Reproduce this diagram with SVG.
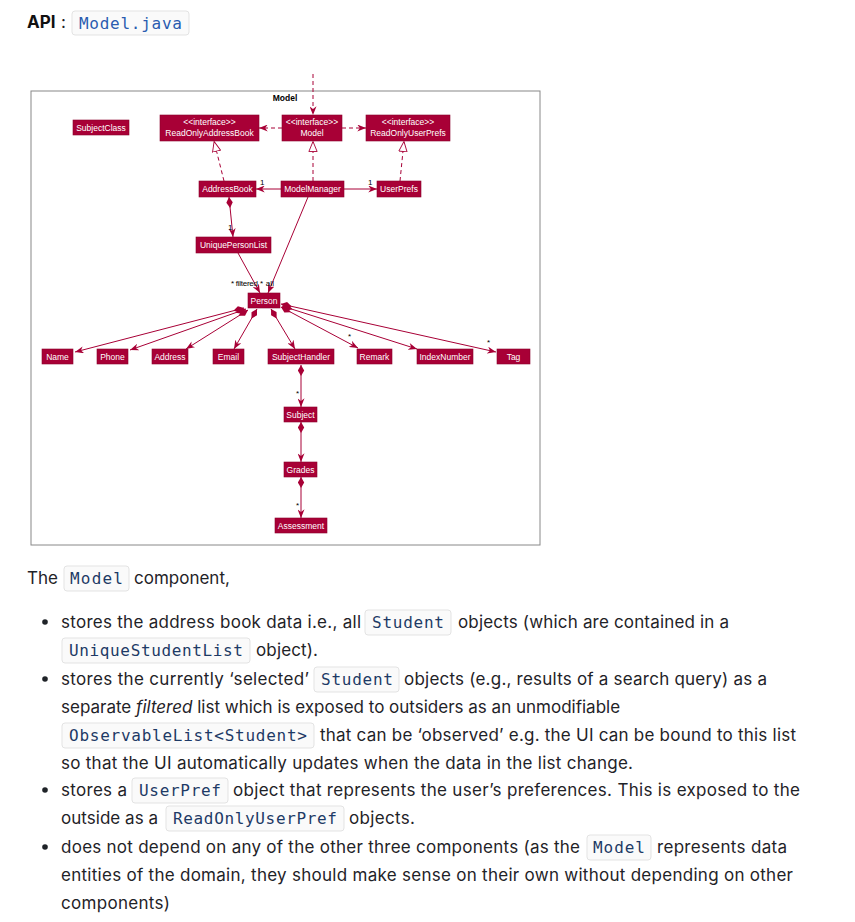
<svg xmlns="http://www.w3.org/2000/svg" width="855" height="922" viewBox="0 0 855 922">
<style>
.node rect{fill:#A80036;stroke:#8a002c;stroke-width:0.6}
.node text{fill:#fff;font-family:"Liberation Sans",Arial,sans-serif;font-size:8.5px;text-anchor:middle}
.c{fill:none;stroke:#A80036;stroke-width:1}
.d{stroke-dasharray:4,3}
.lbl{font-family:"Liberation Sans",Arial,sans-serif;font-size:8px;fill:#000}
.body{font-family:Inter,"Liberation Sans",sans-serif;font-size:17px;fill:#1f2328}
.code{font-family:"DejaVu Sans Mono","Liberation Mono",monospace;font-size:16px;fill:#1e3a66}
.cb{fill:#fafafa;stroke:#e3e3e3;stroke-width:1}
</style>
<defs>
<marker id="arr" viewBox="0 0 10 8" refX="10" refY="4" markerWidth="9" markerHeight="7" markerUnits="userSpaceOnUse" orient="auto"><path d="M0,0 L10,4 L0,8 L3,4 z" fill="#A80036"/></marker>
<marker id="tri" viewBox="0 0 12 10" refX="12" refY="5" markerWidth="11" markerHeight="10" markerUnits="userSpaceOnUse" orient="auto"><path d="M0.5,0.5 L11.5,5 L0.5,9.5 z" fill="#fff" stroke="#A80036" stroke-width="1"/></marker>
<marker id="dia" viewBox="0 0 12 7" refX="0" refY="3.5" markerWidth="11" markerHeight="7" markerUnits="userSpaceOnUse" orient="auto"><path d="M0,3.5 L6,0 L12,3.5 L6,7 z" fill="#A80036"/></marker>
</defs>
<rect width="855" height="922" fill="#fff"/>

<!-- header -->
<text x="27" y="28" font-family="Inter,'Liberation Sans',sans-serif" font-size="17" font-weight="bold" fill="#111">API</text>
<text x="61" y="28" class="body">:</text>
<rect x="72" y="11" width="117" height="24" rx="3" class="cb"/>
<text x="79" y="29" class="code" style="fill:#2a5cb0" textLength="103">Model.java</text>

<!-- frame -->
<rect x="31" y="91" width="509" height="454" fill="none" stroke="#888" stroke-width="1"/>
<text x="285" y="101" font-family="'Liberation Sans',Arial,sans-serif" font-size="8.5" font-weight="bold" text-anchor="middle">Model</text>

<g id="connectors">
<path class="c d" d="M313,74 L313,115" marker-end="url(#arr)"/>
<path class="c d" d="M282,128 L259,128" marker-end="url(#arr)"/>
<path class="c d" d="M342,128 L366,128" marker-end="url(#arr)"/>
<path class="c d" d="M313,181 L313,141" marker-end="url(#tri)"/>
<path class="c d" d="M224,181 L214,141" marker-end="url(#tri)"/>
<path class="c d" d="M400,181 L404,141" marker-end="url(#tri)"/>
<path class="c" d="M281,189 L256,189" marker-end="url(#arr)"/>
<text class="lbl" x="260" y="185">1</text>
<path class="c" d="M344,189 L377,189" marker-end="url(#arr)"/>
<text class="lbl" x="368" y="185">1</text>
<path class="c" d="M229,197 L233,237" marker-start="url(#dia)" marker-end="url(#arr)"/>
<text class="lbl" x="228" y="230">1</text>
<path class="c" d="M238,253 L260,293" marker-end="url(#arr)"/>
<path class="c" d="M308,197 L268,293" marker-end="url(#arr)"/>
<text class="lbl" x="231" y="286" font-size="7.5" textLength="27">* filtered</text>
<text class="lbl" x="260" y="286" font-size="7.5" textLength="14">* all</text>
<path class="c" d="M244,308 L75,352" marker-start="url(#dia)" marker-end="url(#arr)"/>
<path class="c" d="M246,309 L130,350" marker-start="url(#dia)" marker-end="url(#arr)"/>
<path class="c" d="M248,310 L186,349" marker-start="url(#dia)" marker-end="url(#arr)"/>
<path class="c" d="M257,309 L234,349" marker-start="url(#dia)" marker-end="url(#arr)"/>
<path class="c" d="M271,309 L295,349" marker-start="url(#dia)" marker-end="url(#arr)"/>
<path class="c" d="M281,307 L358,348" marker-start="url(#dia)" marker-end="url(#arr)"/>
<path class="c" d="M282,306 L417,349" marker-start="url(#dia)" marker-end="url(#arr)"/>
<path class="c" d="M281,304 L496,352" marker-start="url(#dia)" marker-end="url(#arr)"/>
<text class="lbl" x="348" y="339">*</text>
<text class="lbl" x="487" y="345">*</text>
<path class="c" d="M301,365 L301,407" marker-start="url(#dia)" marker-end="url(#arr)"/>
<text class="lbl" x="296" y="396">*</text>
<path class="c" d="M301,422 L301,462" marker-start="url(#dia)" marker-end="url(#arr)"/>
<path class="c" d="M301,477 L301,518" marker-start="url(#dia)" marker-end="url(#arr)"/>
<text class="lbl" x="296" y="508">*</text>
</g>

<g id="SubjectClass" class="node"><rect x="73" y="120" width="56" height="15"/><text x="101" y="131">SubjectClass</text></g>
<g id="ReadOnlyAddressBook" class="node"><rect x="160" y="115" width="99" height="26"/><text x="209.5" y="125">&lt;&lt;interface&gt;&gt;</text><text x="209.5" y="136">ReadOnlyAddressBook</text></g>
<g id="ModelInterface" class="node"><rect x="282" y="115" width="60" height="26"/><text x="312" y="125">&lt;&lt;interface&gt;&gt;</text><text x="312" y="136">Model</text></g>
<g id="ReadOnlyUserPrefs" class="node"><rect x="366" y="115" width="84" height="26"/><text x="408" y="125">&lt;&lt;interface&gt;&gt;</text><text x="408" y="136">ReadOnlyUserPrefs</text></g>
<g id="AddressBook" class="node"><rect x="199" y="181" width="57" height="16"/><text x="227.5" y="192">AddressBook</text></g>
<g id="ModelManager" class="node"><rect x="281" y="181" width="63" height="16"/><text x="312.5" y="192">ModelManager</text></g>
<g id="UserPrefs" class="node"><rect x="377" y="181" width="44" height="16"/><text x="399" y="192">UserPrefs</text></g>
<g id="UniquePersonList" class="node"><rect x="196" y="237" width="75" height="16"/><text x="233.5" y="248">UniquePersonList</text></g>
<g id="Person" class="node"><rect x="248" y="293" width="32" height="15"/><text x="264" y="304">Person</text></g>
<g id="Name" class="node"><rect x="42" y="349" width="31" height="15"/><text x="57.5" y="360">Name</text></g>
<g id="Phone" class="node"><rect x="97" y="349" width="31" height="15"/><text x="112.5" y="360">Phone</text></g>
<g id="Address" class="node"><rect x="152" y="349" width="36" height="15"/><text x="170" y="360">Address</text></g>
<g id="Email" class="node"><rect x="213" y="349" width="31" height="15"/><text x="228.5" y="360">Email</text></g>
<g id="SubjectHandler" class="node"><rect x="268" y="349" width="66" height="15"/><text x="301" y="360">SubjectHandler</text></g>
<g id="Remark" class="node"><rect x="357" y="349" width="35" height="15"/><text x="374.5" y="360">Remark</text></g>
<g id="IndexNumber" class="node"><rect x="417" y="349" width="56" height="15"/><text x="445" y="360">IndexNumber</text></g>
<g id="Tag" class="node"><rect x="497" y="349" width="33" height="15"/><text x="513.5" y="360">Tag</text></g>
<g id="Subject" class="node"><rect x="284" y="407" width="33" height="15"/><text x="300.5" y="418">Subject</text></g>
<g id="Grades" class="node"><rect x="284" y="462" width="33" height="15"/><text x="300.5" y="473">Grades</text></g>
<g id="Assessment" class="node"><rect x="275" y="518" width="52" height="15"/><text x="301" y="529">Assessment</text></g>

<!-- body text -->
<text x="27" y="584" class="body">The</text>
<rect x="64" y="566" width="65" height="25" rx="3" class="cb"/>
<text x="70" y="584" class="code" textLength="53">Model</text>
<text x="134" y="584" class="body">component,</text>

<g fill="#1f2328">
<circle cx="45" cy="622" r="2.8"/><circle cx="45" cy="679" r="2.8"/><circle cx="45" cy="790" r="2.8"/><circle cx="45" cy="847" r="2.8"/>
</g>

<text x="61" y="628" class="body" textLength="300">stores the address book data i.e., all</text>
<rect x="365" y="610" width="86" height="25" rx="3" class="cb"/>
<text x="372" y="628" class="code" textLength="72">Student</text>
<text x="458" y="628" class="body" textLength="271">objects (which are contained in a</text>

<rect x="62" y="638" width="188" height="25" rx="3" class="cb"/>
<text x="69" y="656" class="code" textLength="174">UniqueStudentList</text>
<text x="256" y="656" class="body" textLength="62">object).</text>

<text x="61" y="685" class="body" textLength="248">stores the currently ‘selected’</text>
<rect x="314" y="667" width="85" height="25" rx="3" class="cb"/>
<text x="321" y="685" class="code" textLength="72">Student</text>
<text x="404" y="685" class="body" textLength="363">objects (e.g., results of a search query) as a</text>

<text x="61" y="713" class="body">separate <tspan font-style="italic">filtered</tspan> list which is exposed to outsiders as an unmodifiable</text>

<rect x="62" y="723" width="252" height="25" rx="3" class="cb"/>
<text x="69" y="741" class="code" textLength="238">ObservableList&lt;Student&gt;</text>
<text x="320" y="741" class="body" textLength="476">that can be ‘observed’ e.g. the UI can be bound to this list</text>

<text x="61" y="769" class="body" textLength="572">so that the UI automatically updates when the data in the list change.</text>

<text x="61" y="796" class="body" textLength="66">stores a</text>
<rect x="132" y="778" width="96" height="25" rx="3" class="cb"/>
<text x="139" y="796" class="code" textLength="82">UserPref</text>
<text x="233" y="796" class="body" textLength="567">object that represents the user’s preferences. This is exposed to the</text>

<text x="61" y="824" class="body" textLength="97">outside as a</text>
<rect x="166" y="806" width="178" height="25" rx="3" class="cb"/>
<text x="173" y="824" class="code" textLength="164">ReadOnlyUserPref</text>
<text x="349" y="824" class="body" textLength="66">objects.</text>

<text x="61" y="853" class="body" textLength="519">does not depend on any of the other three components (as the</text>
<rect x="587" y="835" width="64" height="25" rx="3" class="cb"/>
<text x="593" y="853" class="code" textLength="52">Model</text>
<text x="657" y="853" class="body" textLength="130">represents data</text>

<text x="61" y="881" class="body" textLength="732">entities of the domain, they should make sense on their own without depending on other</text>
<text x="61" y="909" class="body" textLength="109">components)</text>
</svg>
